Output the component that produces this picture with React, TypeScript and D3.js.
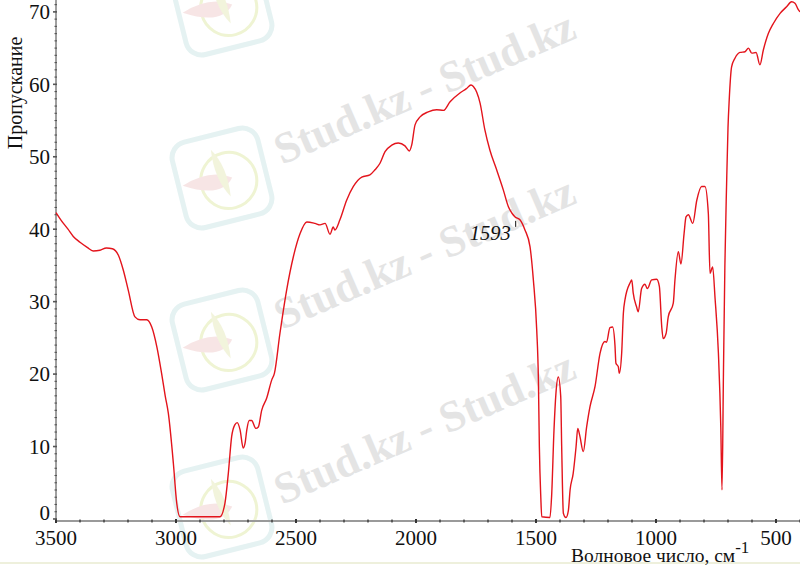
import React from "react";
import * as d3 from "d3";

// IR spectrum, wavenumber (cm^-1) vs transmittance (%)
const wavenumbers = [
  3500, 3480, 3450, 3428, 3400, 3370, 3345, 3317, 3290, 3265, 3240, 3220, 3199, 3171, 3150, 3122, 3101, 3080,
  3060, 3045, 3032, 3011, 2997, 2983, 2900, 2817, 2796, 2782, 2768, 2755, 2745, 2733, 2720, 2712, 2705, 2695,
  2685, 2667, 2657, 2643, 2622, 2601, 2590, 2567, 2539, 2511, 2483, 2455, 2421, 2400, 2379, 2358, 2345, 2338,
  2317, 2289, 2261, 2226, 2192, 2171, 2150, 2129, 2101, 2074, 2046, 2028, 2018, 2004, 1983, 1949, 1914, 1886,
  1858, 1817, 1790, 1771, 1761, 1733, 1713, 1692, 1664, 1636, 1615, 1600, 1587, 1567, 1546, 1525, 1511, 1497,
  1490, 1486, 1480, 1476, 1442, 1435, 1425, 1417, 1407, 1397, 1393, 1386, 1375, 1365, 1358, 1345, 1333, 1326,
  1317, 1303, 1289, 1275, 1254, 1233, 1213, 1206, 1192, 1181, 1171, 1167, 1157, 1153, 1143, 1136, 1129, 1108,
  1101, 1095, 1081, 1074, 1060, 1046, 1036, 1018, 997, 986, 976, 970, 958, 949, 928, 921, 907, 896, 883, 875,
  865, 847, 830, 810, 796, 782, 775, 764, 754, 740, 730, 725, 719, 713, 706, 700, 695, 685, 671, 650, 629, 615,
  601, 583, 567, 553, 532, 511, 483, 456, 435, 421, 407, 400,
];
const transmittance = [
  42.3, 41.3, 40.0, 39.0, 38.2, 37.5, 37.0, 37.1, 37.4, 37.3, 36.4, 34.4, 31.6, 27.9, 27.5, 27.5, 26.5, 23.8,
  20.1, 17.0, 14.6, 7.7, 2.2, 0.3, 0.3, 0.3, 2.2, 6.3, 11.4, 13.0, 13.3, 12.3, 9.8, 10.5, 12.3, 13.6,
  13.6, 12.5, 12.7, 15.0, 16.7, 19.2, 20.1, 25.6, 31.6, 36.2, 39.4, 41.0, 40.8, 40.6, 40.8, 39.3, 40.3, 39.9,
  41.3, 44.0, 45.9, 47.2, 47.5, 48.2, 49.1, 50.7, 51.6, 51.9, 51.5, 50.8, 51.6, 54.4, 55.5, 56.2, 56.5, 56.4,
  57.6, 58.8, 59.4, 59.9, 59.7, 57.4, 53.7, 50.9, 48.2, 45.4, 43.1, 42.2, 41.7, 41.3, 39.9, 37.6, 33.0, 26.1,
  19.2, 10.0, 3.0, 0.3, 0.2, 3.1, 12.3, 17.3, 19.6, 16.9, 10.0, 0.8, 0.2, 1.2, 4.0, 6.3, 10.0, 12.5,
  11.4, 9.3, 12.7, 15.5, 18.3, 22.9, 24.5, 24.4, 26.4, 26.5, 24.0, 21.5, 21.0, 20.1, 22.9, 28.4, 30.3, 32.6,
  33.0, 31.2, 29.3, 28.6, 31.8, 32.4, 31.8, 33.0, 33.1, 32.1, 26.5, 24.9, 25.6, 27.9, 29.8, 33.0, 36.9, 35.2, 39.4, 41.7,
  42.0, 40.8, 44.0, 45.9, 45.9, 42.2, 33.9, 34.8, 30.5, 22.9, 12.7, 4.0, 20.0, 35.0, 46.0, 54.0, 57.8, 62.4, 63.6, 64.4, 64.5, 65.0,
  64.3, 64.4, 62.7, 64.7, 67.0, 68.4, 69.8, 70.7, 71.4, 71.2, 70.3, 70.0,
];

const xTickLabels = [3500, 3000, 2500, 2000, 1500, 1000, 500];
const yTickLabels = [0, 10, 20, 30, 40, 50, 60, 70];
const annotationWave = 1593;
const annotationValue = 41.7;

const watermarkRows = [165, 330, 505];
const logoRows = [5, 178, 340, 507];

const FONT = "Liberation Serif, DejaVu Serif, Times New Roman, serif";

export default function App() {
  const W = 800;
  const H = 566;
  const x = d3.scaleLinear().domain([3500, 400]).range([56, 800]);
  const y = d3.scaleLinear().domain([-0.28, 71.64]).range([521, 0]);
  const data: [number, number][] = wavenumbers.map((w, i) => [w, transmittance[i]]);
  const line = d3
    .line<[number, number]>()
    .x((d) => x(d[0]))
    .y((d) => y(d[1]))
    .curve(d3.curveMonotoneX);

  const minorX = d3.range(3500, 399, -100);
  const minorY = d3.range(0, 72, 1);
  const txt = { fontFamily: FONT };

  return (
    <svg
      width={W}
      height={H}
      viewBox={`0 0 ${W} ${H}`}
      style={{ position: "fixed", left: 0, top: 0, display: "block", background: "#fff" }}
    >
      <rect x={0} y={0} width={W} height={H} fill="#fff" />
      {/* watermark logos */}
      {logoRows.map((cy, i) => (
        <g key={"logo" + i} transform={`translate(222,${cy}) rotate(-14)`} opacity={0.9}>
          <rect x={-44} y={-44} width={88} height={88} rx={16} fill="none" stroke="#e3f1f1" strokeWidth={5} />
          <circle cx={6} cy={4} r={28} fill="none" stroke="#eef3cf" strokeWidth={3} />
          <path d="M-40,-2 Q-10,-12 10,2 Q-5,20 -40,-2 Z" fill="#f7e3e3" />
          <path d="M-4,-30 Q8,-10 4,20 Q-8,0 -4,-30 Z" fill="#f1f3d9" />
        </g>
      ))}
      {/* watermark text */}
      {watermarkRows.map((yy, i) => (
        <text
          key={"wm" + i}
          transform={`translate(282,${yy}) rotate(-23.3)`}
          style={txt}
          fontWeight="bold"
          fontSize={44}
          fill="#e4e4e4"
        >
          Stud.kz - Stud.kz
        </text>
      ))}
      <line x1={0} x2={W} y1={563} y2={563} stroke="#eef0dc" strokeWidth={2} />

      {/* axes */}
      <line x1={x(3500)} x2={W} y1={y(-0.28)} y2={y(-0.28)} stroke="#9a9a9a" strokeWidth={2} />
      <line x1={x(3500)} x2={x(3500)} y1={0} y2={y(-0.28)} stroke="#a0a0a0" strokeWidth={2} />
      {minorX.map((w) => (
        <line
          key={"mx" + w}
          x1={x(w)}
          x2={x(w)}
          y1={y(-0.28) - (w % 500 === 0 ? 2 : 1.5)}
          y2={y(-0.28) + (w % 500 === 0 ? 2 : 1.5)}
          stroke="#333"
          strokeWidth={w % 500 === 0 ? 2 : 1.3}
        />
      ))}
      {minorY.map((v) => (
        <line
          key={"my" + v}
          x1={x(3500) - (v % 10 === 0 ? 3 : 1.5)}
          x2={x(3500) + 1}
          y1={y(v)}
          y2={y(v)}
          stroke="#555"
          strokeWidth={v % 10 === 0 ? 1.6 : 1.1}
        />
      ))}
      {xTickLabels.map((w) => (
        <text key={"xl" + w} x={x(w)} y={545} textAnchor="middle" style={txt} fontSize={21} fill="#111">
          {w}
        </text>
      ))}
      {yTickLabels.map((v) => (
        <text
          key={"yl" + v}
          x={50}
          y={Math.min(y(v), y(0) - 6)}
          dy="0.35em"
          textAnchor="end"
          style={txt}
          fontSize={21}
          fill="#111"
        >
          {v}
        </text>
      ))}
      <text x={571} y={562} style={txt} fontSize={19.5} fill="#111">
        Волновое число, см
        <tspan dy={-9} fontSize={17}>
          -1
        </tspan>
      </text>
      <text transform="translate(22,93) rotate(-90)" textAnchor="middle" style={txt} fontSize={20} fill="#111">
        Пропускание
      </text>

      {/* spectrum */}
      <path d={line(data) || ""} fill="none" stroke="#e3141c" strokeWidth={1.4} strokeLinejoin="round" />

      {/* annotation */}
      <text
        x={x(annotationWave) - 3}
        y={y(annotationValue) + 23}
        textAnchor="end"
        style={txt}
        fontStyle="italic"
        fontSize={20.5}
        fill="#111"
      >
        {annotationWave}
      </text>
      <line
        x1={x(annotationWave) + 2}
        x2={x(annotationWave) + 2}
        y1={y(annotationValue) + 4}
        y2={y(annotationValue) + 10}
        stroke="#111"
        strokeWidth={1}
      />
    </svg>
  );
}
